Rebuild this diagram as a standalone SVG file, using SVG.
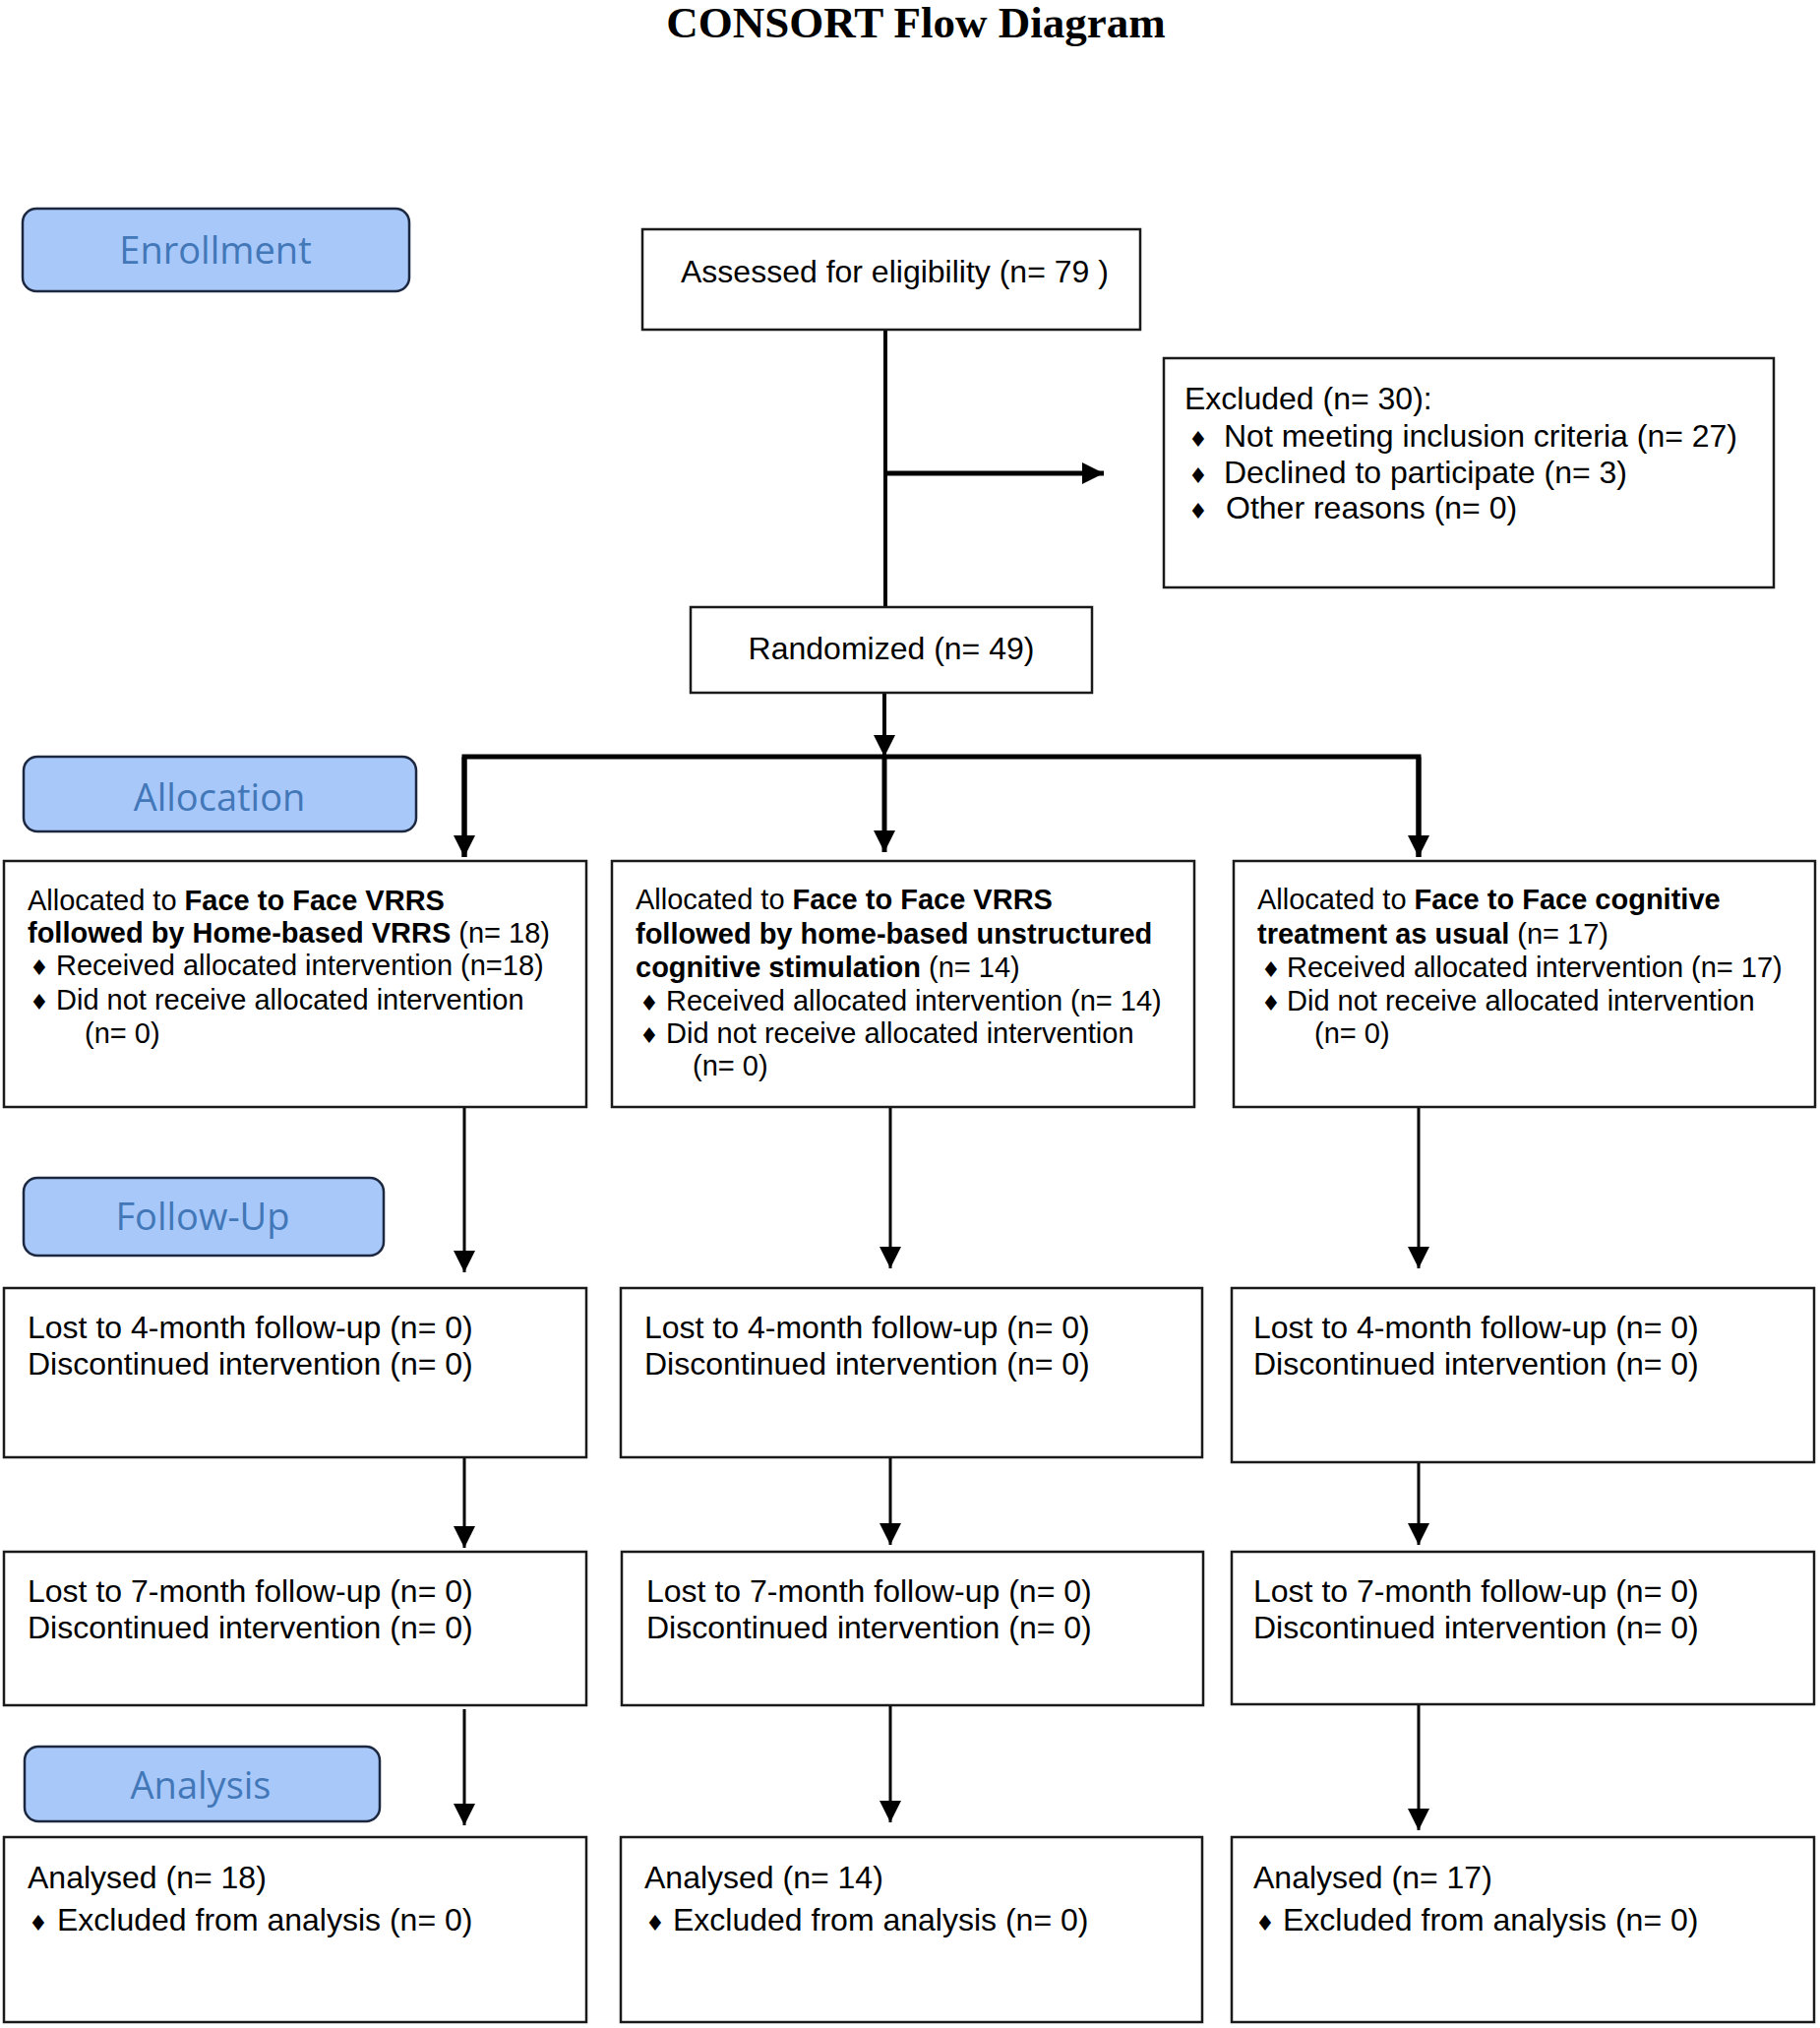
<svg xmlns="http://www.w3.org/2000/svg" width="1850" height="2061" viewBox="0 0 1850 2061">
<defs>
<style>
.box{fill:#fff;stroke:#1a1a1a;stroke-width:2.5}
.lbl{fill:#a8c8fa;stroke:#1c2740;stroke-width:2.5}
.lt{font-family:"Open Sans","Noto Sans",sans-serif;font-size:38px;fill:#4277b8;text-anchor:middle}
.t{font-family:"Liberation Sans",Arial,sans-serif;font-size:32px;fill:#000}
.s{font-family:"Liberation Sans",Arial,sans-serif;font-size:29px;fill:#000}
.b{font-weight:bold}
.bul{font-family:"DejaVu Sans",sans-serif;font-size:22px;fill:#000}
.c{fill:none;stroke:#000;stroke-width:3}
.c4{fill:none;stroke:#000;stroke-width:4}
.c5{fill:none;stroke:#000;stroke-width:5}
</style>
<marker id="ah" markerUnits="userSpaceOnUse" markerWidth="22" markerHeight="22" refX="22" refY="11" orient="auto">
<path d="M0,0 L22,11 L0,22 Z" fill="#000"/>
</marker>
</defs>
<rect width="1850" height="2061" fill="#fff"/>
<text x="931" y="38" font-family="Liberation Serif,'Times New Roman',serif" font-size="45" font-weight="bold" text-anchor="middle">CONSORT Flow Diagram</text>

<g id="connectors">
<line class="c4" x1="900" y1="335" x2="900" y2="617"/>
<line class="c5" x1="900" y1="481" x2="1122" y2="481" marker-end="url(#ah)"/>
<line class="c4" x1="899" y1="704" x2="899" y2="769" marker-end="url(#ah)"/>
<polyline class="c5" points="472,871 472,769 1442,769 1442,871"/>
<line class="c5" x1="472" y1="769" x2="472" y2="871" marker-end="url(#ah)"/>
<line class="c5" x1="1442" y1="769" x2="1442" y2="871" marker-end="url(#ah)"/>
<line class="c5" x1="899" y1="769" x2="899" y2="866" marker-end="url(#ah)"/>
<line class="c" x1="472" y1="1125" x2="472" y2="1293" marker-end="url(#ah)"/>
<line class="c" x1="905" y1="1125" x2="905" y2="1289" marker-end="url(#ah)"/>
<line class="c" x1="1442" y1="1125" x2="1442" y2="1289" marker-end="url(#ah)"/>
<line class="c" x1="472" y1="1481" x2="472" y2="1573" marker-end="url(#ah)"/>
<line class="c" x1="905" y1="1481" x2="905" y2="1570" marker-end="url(#ah)"/>
<line class="c" x1="1442" y1="1486" x2="1442" y2="1570" marker-end="url(#ah)"/>
<line class="c" x1="472" y1="1737" x2="472" y2="1855" marker-end="url(#ah)"/>
<line class="c" x1="905" y1="1733" x2="905" y2="1852" marker-end="url(#ah)"/>
<line class="c" x1="1442" y1="1733" x2="1442" y2="1860" marker-end="url(#ah)"/>
</g>

<g id="lbl-enrollment">
<rect class="lbl" x="23" y="212" width="393" height="84" rx="14"/>
<text class="lt" x="219" y="268">Enrollment</text>
</g>
<g id="lbl-allocation">
<rect class="lbl" x="24" y="769" width="399" height="76" rx="14"/>
<text class="lt" x="223" y="824">Allocation</text>
</g>
<g id="lbl-followup">
<rect class="lbl" x="24" y="1197" width="366" height="79" rx="14"/>
<text class="lt" x="206" y="1250">Follow-Up</text>
</g>
<g id="lbl-analysis">
<rect class="lbl" x="25" y="1775" width="361" height="76" rx="14"/>
<text class="lt" x="204" y="1828">Analysis</text>
</g>

<g id="assessed">
<rect class="box" x="653" y="233" width="506" height="102"/>
<text class="t" x="692" y="287">Assessed for eligibility (n= 79 )</text>
</g>

<g id="excluded">
<rect class="box" x="1183" y="364" width="620" height="233"/>
<text class="t" x="1204" y="416">Excluded (n= 30):</text>
<text class="bul" x="1208" y="454">♦</text>
<text class="t" x="1244" y="454">Not meeting inclusion criteria (n= 27)</text>
<text class="bul" x="1208" y="491">♦</text>
<text class="t" x="1244" y="491">Declined to participate (n= 3)</text>
<text class="bul" x="1208" y="527">♦</text>
<text class="t" x="1246" y="527">Other reasons (n= 0)</text>
</g>

<g id="randomized">
<rect class="box" x="702" y="617" width="408" height="87"/>
<text class="t" x="906" y="670" text-anchor="middle">Randomized (n= 49)</text>
</g>

<g id="alloc-1">
<rect class="box" x="4" y="875" width="592" height="250"/>
<text class="s" x="28" y="925">Allocated to <tspan class="b">Face to Face VRRS</tspan></text>
<text class="s" x="28" y="958"><tspan class="b">followed by Home-based VRRS</tspan> (n= 18)</text>
<text class="bul" x="30" y="991">♦</text>
<text class="s" x="57" y="991">Received allocated intervention (n=18)</text>
<text class="bul" x="30" y="1026">♦</text>
<text class="s" x="57" y="1026">Did not receive allocated intervention</text>
<text class="s" x="86" y="1060">(n= 0)</text>
</g>

<g id="alloc-2">
<rect class="box" x="622" y="875" width="592" height="250"/>
<text class="s" x="646" y="924">Allocated to <tspan class="b">Face to Face VRRS</tspan></text>
<text class="s b" x="646" y="959">followed by home-based unstructured</text>
<text class="s" x="646" y="993"><tspan class="b">cognitive stimulation</tspan> (n= 14)</text>
<text class="bul" x="650" y="1027">♦</text>
<text class="s" x="677" y="1027">Received allocated intervention (n= 14)</text>
<text class="bul" x="650" y="1060">♦</text>
<text class="s" x="677" y="1060">Did not receive allocated intervention</text>
<text class="s" x="704" y="1093">(n= 0)</text>
</g>

<g id="alloc-3">
<rect class="box" x="1254" y="875" width="591" height="250"/>
<text class="s" x="1278" y="924">Allocated to <tspan class="b">Face to Face cognitive</tspan></text>
<text class="s" x="1278" y="959"><tspan class="b">treatment as usual</tspan> (n= 17)</text>
<text class="bul" x="1282" y="993">♦</text>
<text class="s" x="1308" y="993">Received allocated intervention (n= 17)</text>
<text class="bul" x="1282" y="1027">♦</text>
<text class="s" x="1308" y="1027">Did not receive allocated intervention</text>
<text class="s" x="1336" y="1060">(n= 0)</text>
</g>

<g id="fu4-1">
<rect class="box" x="4" y="1309" width="592" height="172"/>
<text class="t" x="28" y="1360">Lost to 4-month follow-up (n= 0)</text>
<text class="t" x="28" y="1397">Discontinued intervention (n= 0)</text>
</g>
<g id="fu4-2">
<rect class="box" x="631" y="1309" width="591" height="172"/>
<text class="t" x="655" y="1360">Lost to 4-month follow-up (n= 0)</text>
<text class="t" x="655" y="1397">Discontinued intervention (n= 0)</text>
</g>
<g id="fu4-3">
<rect class="box" x="1252" y="1309" width="592" height="177"/>
<text class="t" x="1274" y="1360">Lost to 4-month follow-up (n= 0)</text>
<text class="t" x="1274" y="1397">Discontinued intervention (n= 0)</text>
</g>

<g id="fu7-1">
<rect class="box" x="4" y="1577" width="592" height="156"/>
<text class="t" x="28" y="1628">Lost to 7-month follow-up (n= 0)</text>
<text class="t" x="28" y="1665">Discontinued intervention (n= 0)</text>
</g>
<g id="fu7-2">
<rect class="box" x="632" y="1577" width="591" height="156"/>
<text class="t" x="657" y="1628">Lost to 7-month follow-up (n= 0)</text>
<text class="t" x="657" y="1665">Discontinued intervention (n= 0)</text>
</g>
<g id="fu7-3">
<rect class="box" x="1252" y="1577" width="592" height="155"/>
<text class="t" x="1274" y="1628">Lost to 7-month follow-up (n= 0)</text>
<text class="t" x="1274" y="1665">Discontinued intervention (n= 0)</text>
</g>

<g id="an-1">
<rect class="box" x="4" y="1867" width="592" height="188"/>
<text class="t" x="28" y="1919">Analysed (n= 18)</text>
<text class="bul" x="29" y="1962">♦</text>
<text class="t" x="58" y="1962">Excluded from analysis (n= 0)</text>
</g>
<g id="an-2">
<rect class="box" x="631" y="1867" width="591" height="188"/>
<text class="t" x="655" y="1919">Analysed (n= 14)</text>
<text class="bul" x="656" y="1962">♦</text>
<text class="t" x="684" y="1962">Excluded from analysis (n= 0)</text>
</g>
<g id="an-3">
<rect class="box" x="1252" y="1867" width="592" height="188"/>
<text class="t" x="1274" y="1919">Analysed (n= 17)</text>
<text class="bul" x="1276" y="1962">♦</text>
<text class="t" x="1304" y="1962">Excluded from analysis (n= 0)</text>
</g>
</svg>
